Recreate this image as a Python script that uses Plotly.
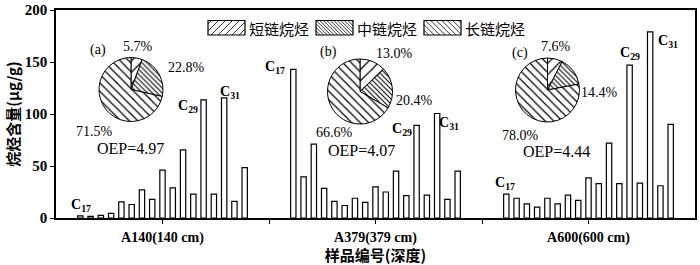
import plotly.graph_objects as go

# ---------------- data ----------------
carbons = [f"C{n}" for n in range(17, 34)]
groups = ["A140(140 cm)", "A379(379 cm)", "A600(600 cm)"]
a140 = [2, 1.5, 2.5, 4.5, 15.5, 13, 27, 18, 46, 29, 65.5, 23, 113.5, 23, 115.5, 16, 48.5]
a379 = [143, 39.5, 71, 28.5, 16, 12, 19, 15, 30, 25, 45, 21.5, 89, 22, 100.5, 18, 45]
a600 = [23, 19, 13.5, 10.5, 19, 13.5, 22, 17, 38.5, 33, 72, 33, 147, 33.5, 179, 31, 90]
chain_labels = ["短链烷烃", "中链烷烃", "长链烷烃"]
pie_a = [5.7, 22.8, 71.5]
pie_b = [13.0, 20.4, 66.6]
pie_c = [7.6, 14.4, 78.0]
oep = [4.97, 4.07, 4.44]
panel_tags = ["(a)", "(b)", "(c)"]
y_ticks = [0, 50, 100, 150, 200]

SERIF = "Liberation Serif, 'Noto Sans CJK SC', serif"
CJK = "'Noto Sans CJK SC', Liberation Serif, sans-serif"

W, H = 700, 265
ML, MR, MT, MB = 56, 5, 10, 47
PW, PH = W - ML - MR, H - MT - MB


def P(px, py):
    return (px - ML) / PW, (H - MB - py) / PH


fig = go.Figure()

series = [a140, a379, a600]
xpos = [1, 2, 3]
BARGAP = 0.18
for i, c in enumerate(carbons):
    fig.add_trace(go.Bar(
        x=xpos, y=[s[i] for s in series], name=c, showlegend=False,
        marker=dict(color="white", line=dict(color="black", width=1.2)),
        hoverinfo="skip"))

# pies
pat_shapes = ["/", "\\", "\\"]
pat_sizes = [8, 3.5, 6]
pie_domains = [((99, 163), (57, 122)), ((327.5, 392.5), (59, 124)), ((515.5, 579.5), (58, 122))]
for k, (vals, dom) in enumerate(zip([pie_a, pie_b, pie_c], pie_domains)):
    (x0, x1), (y0, y1) = dom
    px0, py1 = P(x0, y0)
    px1, py0 = P(x1, y1)
    fig.add_trace(go.Pie(
        labels=chain_labels, values=vals, sort=False, direction="clockwise",
        rotation=0, textinfo="none", hoverinfo="skip", showlegend=False,
        domain=dict(x=[px0, px1], y=[py0, py1]),
        marker=dict(colors=["white", "white", "white"],
                    line=dict(color="black", width=1),
                    pattern=dict(shape=pat_shapes, size=pat_sizes,
                                 solidity=[0.15, 0.3, 0.2],
                                 fgcolor="black", bgcolor="white"))))

ann = []
shapes = []
# pie/value labels (pixel positions)
pie_text_pos = [
    [(97.5, 50), (138, 46.7), (186, 67), (94, 131), (130.5, 148)],
    [(328.5, 52), (394, 53), (414.5, 100), (334.5, 132), (361.5, 150)],
    [(520, 53), (556, 46), (599.5, 92), (520.5, 135), (556, 151)],
]
for k, vals in enumerate([pie_a, pie_b, pie_c]):
    texts = [panel_tags[k]] + [f"{v:.1f}%" for v in vals] + [f"OEP={oep[k]:.2f}"]
    for j, (t, (px, py)) in enumerate(zip(texts, pie_text_pos[k])):
        x, y = P(px, py)
        ann.append(dict(x=x, y=y, xref="paper", yref="paper", text=t, showarrow=False,
                        xanchor="center", yanchor="middle",
                        font=dict(family=SERIF, size=16 if j == 4 else 14, color="black")))

# carbon labels near bars
slot = (1 - BARGAP) / len(carbons)


def bar_x(g, i):
    return xpos[g] - (1 - BARGAP) / 2 + (i + 0.5) * slot


label_idx = [0, 12, 14]
shifts = {
    (0, 0): (1, 10), (0, 12): (-16, -7), (0, 14): (6, 5),
    (1, 0): (-18, 2), (1, 12): (-15, -4), (1, 14): (12, -10),
    (2, 0): (-1, 11), (2, 12): (0, 12), (2, 14): (18, -10),
}
for g in range(3):
    for i in label_idx:
        dx, dy = shifts[(g, i)]
        n = carbons[i][1:]
        ann.append(dict(x=bar_x(g, i), y=series[g][i], xref="x", yref="y",
                        text=f"<b>C<sub>{n}</sub></b>", showarrow=False,
                        xanchor="center", yanchor="middle", xshift=dx, yshift=dy,
                        font=dict(family=SERIF, size=14, color="black")))


# custom legend: wide hatched patches + labels
def hatch_path(x0, y0, x1, y1, step, kind):
    segs = []
    if kind == "/":
        c = x0 + y0 + step / 2
        while c < x1 + y1:
            xa, xb = max(x0, c - y1), min(x1, c - y0)
            if xb > xa:
                p0, p1 = P(xa, c - xa), P(xb, c - xb)
                segs.append(f"M{p0[0]:.5f},{p0[1]:.5f}L{p1[0]:.5f},{p1[1]:.5f}")
            c += step
    else:
        c = y0 - x1 + step / 2
        while c < y1 - x0:
            xa, xb = max(x0, y0 - c), min(x1, y1 - c)
            if xb > xa:
                p0, p1 = P(xa, xa + c), P(xb, xb + c)
                segs.append(f"M{p0[0]:.5f},{p0[1]:.5f}L{p1[0]:.5f},{p1[1]:.5f}")
            c += step
    return "".join(segs)


leg_x = [208, 316, 424]
leg_steps = [7, 3.5, 5.5]
for k, lab in enumerate(chain_labels):
    x0, y0, x1, y1 = leg_x[k], 20.5, leg_x[k] + 37, 35
    shapes.append(dict(type="path", xref="paper", yref="paper",
                       path=hatch_path(x0, y0, x1, y1, leg_steps[k], pat_shapes[k]),
                       line=dict(color="black", width=0.8)))
    a, b = P(x0, y0)
    c, d = P(x1, y1)
    shapes.append(dict(type="rect", xref="paper", yref="paper", x0=a, y0=d, x1=c, y1=b,
                       line=dict(color="black", width=1.2)))
    tx, ty = P(x1 + 2, 28)
    ann.append(dict(x=tx, y=ty, xref="paper", yref="paper", text=lab, showarrow=False,
                    xanchor="left", yanchor="middle",
                    font=dict(family=CJK, size=15, color="black")))

fig.update_layout(
    width=W, height=H, margin=dict(l=ML, r=MR, t=MT, b=MB),
    paper_bgcolor="white", plot_bgcolor="white",
    barmode="group", bargap=BARGAP, bargroupgap=0.48,
    annotations=ann, shapes=shapes, showlegend=False,
    xaxis=dict(range=[0.5, 3.5], tickvals=[1, 1.5, 2, 2.5, 3],
               ticktext=[groups[0], " ", groups[1], " ", groups[2]],
               ticks="outside", ticklen=4, tickwidth=1.3, tickcolor="black",
               showline=True, linecolor="black", linewidth=1.5, mirror=True,
               showgrid=False, zeroline=False, ticklabelstandoff=1, automargin=False,
               tickfont=dict(family=SERIF, size=14, color="black", weight="bold"),
               title=dict(text="<b>样品编号(深度)</b>", standoff=2,
                          font=dict(family=CJK, size=15, color="black"))),
    yaxis=dict(range=[0, 200], tickvals=y_ticks, ticks="outside", ticklen=4,
               tickwidth=1.3, tickcolor="black", showline=True, linecolor="black",
               linewidth=1.5, mirror=True, showgrid=False, zeroline=False, automargin=False,
               tickfont=dict(family=SERIF, size=15, color="black", weight="bold"),
               title=dict(text="<b>烷烃含量(μg/g)</b>", standoff=2,
                          font=dict(family=CJK, size=15, color="black"))),
)

fig.write_html("out.html", config={"displayModeBar": False},
               post_script="document.body.style.margin='0';document.body.style.overflow='hidden';")
